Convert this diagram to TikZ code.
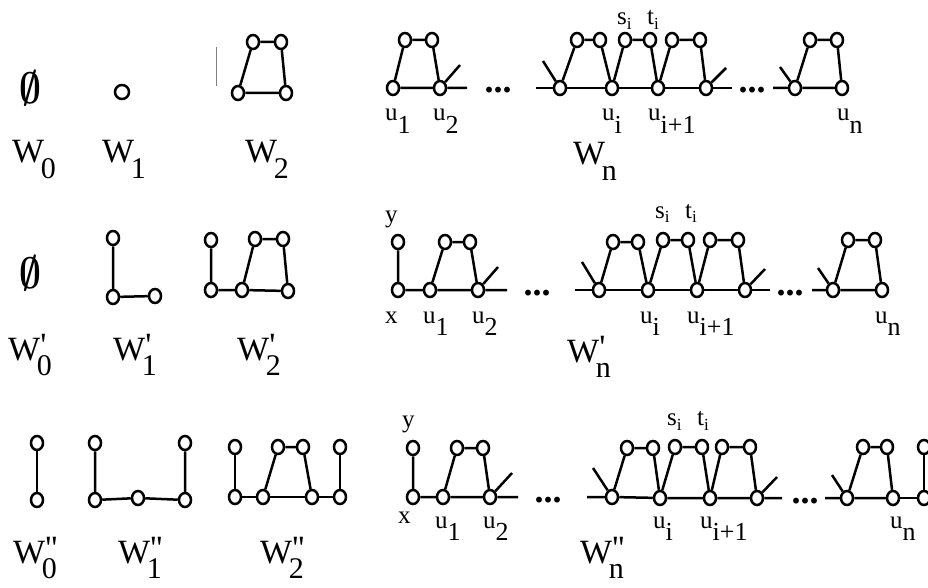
\documentclass[tikz,border=0pt]{standalone}
\usepackage{fontspec}
\setmainfont{Liberation Serif}[Ligatures=TeXOff]
\usetikzlibrary{shapes.geometric}

\newcommand{\lsub}[2]{#1\raisebox{-0.5em}{\fontsize{26}{26}\selectfont #2}}
\newcommand{\ssub}[2]{#1\raisebox{-0.2em}{\fontsize{17}{17}\selectfont #2}}
\newcommand{\wname}[2]{W\rlap{\raisebox{0.1em}{#1}}\kern-0.1em\raisebox{-0.45em}{\fontsize{30}{30}\selectfont #2}}
\newcommand{\emptysym}{\scalebox{3.8}[4.4]{\boldmath$\emptyset$}}

\begin{document}
\begin{tikzpicture}[x=1pt, y=-1pt,
    v/.style={draw, ellipse, line width=2.5pt, minimum width=12pt, minimum height=14pt, inner sep=0pt},
    e/.style={line width=2.5pt},
    lab/.style={anchor=base west, inner sep=0pt, font=\fontsize{25}{25}\selectfont},
    wlab/.style={anchor=base west, inner sep=0pt, font=\fontsize{34}{34}\selectfont},
    emp/.style={inner sep=0pt},
    dots/.style={anchor=base, inner sep=0pt, font=\fontsize{36}{36}\selectfont\bfseries}]
\useasboundingbox (0,0) rectangle (928,588);

% row 1: W_0, W_1, W_2
\node[emp] (e0) at (30,88) {\emptysym};
\node[wlab] (lw0) at (12,163) {\wname{}{0}};
\node[v, minimum width=14pt, minimum height=14pt] (w1a) at (122,92) {};
\node[wlab] (lw1) at (102,163) {\wname{}{1}};
\coordinate (bar1) at (216,47);
\coordinate (bar2) at (216,86);
\draw[gray, line width=0.8pt] (bar1) -- (bar2);
\node[v] (w2a) at (238,93) {};
\node[v] (w2b) at (286,93) {};
\node[v] (w2c) at (253,42) {};
\node[v] (w2d) at (281,42) {};
\draw[e] (w2a) -- (w2b) -- (w2d) -- (w2c) -- (w2a);
\node[wlab] (lw2) at (245,163) {\wname{}{2}};

% row 1: W_n
\node[v] (A1) at (393,88) {};
\node[v] (A2) at (440,88) {};
\node[v] (Aq1) at (405,40) {};
\node[v] (Aq2) at (432,40) {};
\coordinate (As1) at (460,65);
\coordinate (As2) at (467,88);
\draw[e] (Aq2) -- (A2) -- (A1) -- (Aq1) -- (Aq2);
\draw[e] (A2) -- (As1) (A2) -- (As2);
\node[dots] (Ad1) at (498,93) {...};
\node[v] (Am1) at (560,88) {};
\coordinate (Am1s) at (536,88);
\coordinate (Am1t) at (543,61);
\node[v] (Ar1) at (577,40) {};
\node[v] (Ar2) at (600,40) {};
\node[v] (Ai) at (612,88) {};
\node[v] (As) at (625,40) {};
\node[v] (At) at (650,40) {};
\node[v] (Aj) at (658,88) {};
\node[v] (Ar3) at (672,40) {};
\node[v] (Ar4) at (700,40) {};
\node[v] (Am2) at (706,88) {};
\coordinate (Am2s) at (726,68);
\coordinate (Am2t) at (732,88);
\draw[e] (Am1s) -- (Am1) -- (Ai) -- (Aj) -- (Am2) -- (Am2t);
\draw[e] (Am1t) -- (Am1) -- (Ar1) -- (Ar2) -- (Ai) -- (As) -- (At) -- (Aj) -- (Ar3) -- (Ar4) -- (Am2) -- (Am2s);
\node[dots] (Ad2) at (752,93) {...};
\node[v] (Ae1) at (795,88) {};
\coordinate (Ae1s) at (773,88);
\coordinate (Ae1t) at (780,67);
\node[v] (Af1) at (810,40) {};
\node[v] (Af2) at (837,40) {};
\node[v] (An) at (842,88) {};
\draw[e] (Ae1s) -- (Ae1) -- (An) -- (Af2) -- (Af1) -- (Ae1) -- (Ae1t);
\node[lab] (lAu1) at (385,121) {\lsub{u}{1}};
\node[lab] (lAu2) at (433,121) {\lsub{u}{2}};
\node[lab] (lAui) at (602,121) {\lsub{u}{i}};
\node[lab] (lAuj) at (648,121) {\lsub{u}{i+1}};
\node[lab] (lAun) at (837,121) {\lsub{u}{n}};
\node[lab] (lAs) at (617,25) {\ssub{s}{i}};
\node[lab] (lAt) at (647,25) {\ssub{t}{i}};
\node[wlab] (lwn) at (573,165) {\wname{}{n}};

% row 2: W'_0, W'_1, W'_2
\node[emp] (e1) at (30,273) {\emptysym};
\node[wlab] (lw0p) at (8,360) {\wname{'}{0}};
\node[v] (v1a) at (113,238) {};
\node[v] (v1b) at (113,297) {};
\node[v] (v1c) at (155,296) {};
\draw[e] (v1a) -- (v1b) -- (v1c);
\node[wlab] (lw1p) at (113,360) {\wname{'}{1}};
\node[v] (v2a) at (211,240) {};
\node[v] (v2b) at (211,290) {};
\node[v] (v2c) at (242,290) {};
\node[v] (v2d) at (288,291) {};
\node[v] (v2e) at (255,239) {};
\node[v] (v2f) at (283,239) {};
\draw[e] (v2a) -- (v2b) -- (v2c) -- (v2d) -- (v2f) -- (v2e) -- (v2c);
\node[wlab] (lw2p) at (237,360) {\wname{'}{2}};

% row 2: W'_n
\node[v] (By) at (398,242) {};
\node[v] (Bx) at (398,290) {};
\node[v] (B1) at (430,290) {};
\node[v] (B2) at (478,290) {};
\node[v] (Bq1) at (445,242) {};
\node[v] (Bq2) at (470,242) {};
\coordinate (Bs1) at (498,267);
\coordinate (Bs2) at (507,290);
\draw[e] (By) -- (Bx) -- (B1) -- (B2) -- (Bq2) -- (Bq1) -- (B1);
\draw[e] (B2) -- (Bs1) (B2) -- (Bs2);
\node[dots] (Bd1) at (537,295) {...};
\node[v] (Bm1) at (599,290) {};
\coordinate (Bm1s) at (575,290);
\coordinate (Bm1t) at (582,262);
\node[v] (Br1) at (613,242) {};
\node[v] (Br2) at (638,242) {};
\node[v] (Bi) at (648,290) {};
\node[v] (Bs) at (663,240) {};
\node[v] (Bt) at (688,240) {};
\node[v] (Bj) at (697,290) {};
\node[v] (Br3) at (710,240) {};
\node[v] (Br4) at (738,240) {};
\node[v] (Bm2) at (745,290) {};
\coordinate (Bm2s) at (765,269);
\coordinate (Bm2t) at (770,290);
\draw[e] (Bm1s) -- (Bm1) -- (Bi) -- (Bj) -- (Bm2) -- (Bm2t);
\draw[e] (Bm1t) -- (Bm1) -- (Br1) -- (Br2) -- (Bi) -- (Bs) -- (Bt) -- (Bj) -- (Br3) -- (Br4) -- (Bm2) -- (Bm2s);
\node[dots] (Bd2) at (790,295) {...};
\node[v] (Be1) at (833,290) {};
\coordinate (Be1s) at (812,290);
\coordinate (Be1t) at (818,268);
\node[v] (Bf1) at (848,240) {};
\node[v] (Bf2) at (875,240) {};
\node[v] (Bn) at (882,290) {};
\draw[e] (Be1s) -- (Be1) -- (Bn) -- (Bf2) -- (Bf1) -- (Be1) -- (Be1t);
\node[lab] (lBy) at (385,222) {y};
\node[lab] (lBx) at (385,323) {x};
\node[lab] (lBu1) at (423,323) {\lsub{u}{1}};
\node[lab] (lBu2) at (472,323) {\lsub{u}{2}};
\node[lab] (lBui) at (640,323) {\lsub{u}{i}};
\node[lab] (lBuj) at (687,323) {\lsub{u}{i+1}};
\node[lab] (lBun) at (875,323) {\lsub{u}{n}};
\node[lab] (lBs) at (655,218) {\ssub{s}{i}};
\node[lab] (lBt) at (685,218) {\ssub{t}{i}};
\node[wlab] (lwnp) at (567,362) {\wname{'}{n}};

% row 3: W''_0, W''_1, W''_2
\node[v] (x0a) at (37,443) {};
\node[v] (x0b) at (37,500) {};
\draw[e] (x0a) -- (x0b);
\node[wlab] (lw0pp) at (13,563) {\wname{''}{0}};
\node[v] (x1a) at (95,443) {};
\node[v] (x1b) at (95,500) {};
\node[v] (x1c) at (138,498) {};
\node[v] (x1d) at (185,500) {};
\node[v] (x1e) at (185,443) {};
\draw[e] (x1a) -- (x1b) -- (x1c) -- (x1d) -- (x1e);
\node[wlab] (lw1pp) at (118,563) {\wname{''}{1}};
\node[v] (x2a) at (235,447) {};
\node[v] (x2b) at (235,497) {};
\node[v] (x2c) at (263,497) {};
\node[v] (x2d) at (312,497) {};
\node[v] (x2e) at (340,497) {};
\node[v] (x2f) at (278,447) {};
\node[v] (x2g) at (303,447) {};
\node[v] (x2h) at (340,447) {};
\draw[e] (x2a) -- (x2b) -- (x2c) -- (x2d) -- (x2e) -- (x2h);
\draw[e] (x2c) -- (x2f) -- (x2g) -- (x2d);
\node[wlab] (lw2pp) at (260,563) {\wname{''}{2}};

% row 3: W''_n
\node[v] (Cy) at (413,448) {};
\node[v] (Cx) at (413,497) {};
\node[v] (C1) at (443,497) {};
\node[v] (C2) at (490,497) {};
\node[v] (Cq1) at (457,448) {};
\node[v] (Cq2) at (483,448) {};
\coordinate (Cs1) at (512,473);
\coordinate (Cs2) at (518,497);
\draw[e] (Cy) -- (Cx) -- (C1) -- (C2) -- (Cq2) -- (Cq1) -- (C1);
\draw[e] (C2) -- (Cs1) (C2) -- (Cs2);
\node[dots] (Cd1) at (548,502) {...};
\node[v] (Cm1) at (612,497) {};
\coordinate (Cm1s) at (587,497);
\coordinate (Cm1t) at (593,468);
\node[v] (Cr1) at (627,448) {};
\node[v] (Cr2) at (653,448) {};
\node[v] (Ci) at (660,498) {};
\node[v] (Cs) at (675,447) {};
\node[v] (Ct) at (702,447) {};
\node[v] (Cj) at (710,498) {};
\node[v] (Cr3) at (722,447) {};
\node[v] (Cr4) at (750,447) {};
\node[v] (Cm2) at (757,498) {};
\coordinate (Cm2s) at (777,477);
\coordinate (Cm2t) at (782,498);
\draw[e] (Cm1s) -- (Cm1) -- (Ci) -- (Cj) -- (Cm2) -- (Cm2t);
\draw[e] (Cm1t) -- (Cm1) -- (Cr1) -- (Cr2) -- (Ci) -- (Cs) -- (Ct) -- (Cj) -- (Cr3) -- (Cr4) -- (Cm2) -- (Cm2s);
\node[dots] (Cd2) at (805,503) {...};
\node[v] (Ce1) at (847,498) {};
\coordinate (Ce1s) at (825,498);
\coordinate (Ce1t) at (832,475);
\node[v] (Cf1) at (863,447) {};
\node[v] (Cf2) at (887,447) {};
\node[v] (Cn) at (893,498) {};
\node[v] (Cz) at (924,498) {};
\node[v] (Cw) at (924,447) {};
\draw[e] (Ce1s) -- (Ce1) -- (Cn) -- (Cf2) -- (Cf1) -- (Ce1) -- (Ce1t);
\draw[e] (Cn) -- (Cz) -- (Cw);
\node[lab] (lCy) at (402,427) {y};
\node[lab] (lCx) at (398,523) {x};
\node[lab] (lCu1) at (435,528) {\lsub{u}{1}};
\node[lab] (lCu2) at (483,528) {\lsub{u}{2}};
\node[lab] (lCui) at (653,528) {\lsub{u}{i}};
\node[lab] (lCuj) at (700,528) {\lsub{u}{i+1}};
\node[lab] (lCun) at (890,528) {\lsub{u}{n}};
\node[lab] (lCs) at (667,425) {\ssub{s}{i}};
\node[lab] (lCt) at (697,425) {\ssub{t}{i}};
\node[wlab] (lwnpp) at (580,563) {\wname{''}{n}};
\end{tikzpicture}
\end{document}
